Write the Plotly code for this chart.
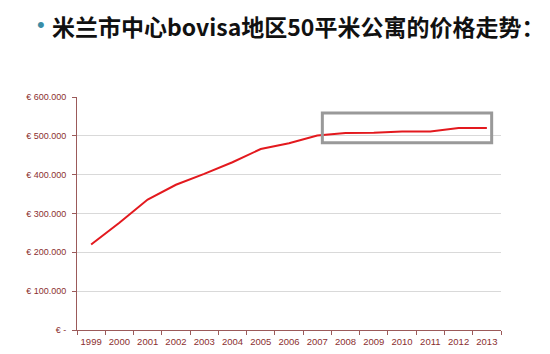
import plotly.graph_objects as go

years = [str(y) for y in range(1999, 2014)]
prices = [220000, 276000, 336000, 374000, 402000, 432000, 466000, 481000, 501000,
          507000, 508000, 511000, 511000, 520000, 520000]
ytick_vals = [0, 100000, 200000, 300000, 400000, 500000, 600000]
ytick_text = ["€ -", "€ 100.000", "€ 200.000", "€ 300.000", "€ 400.000", "€ 500.000", "€ 600.000"]
title_text = "米兰市中心bovisa地区50平米公寓的价格走势："

axis_col = "#9B5A5A"
label_col = "#8B2F2F"

fig = go.Figure()
fig.add_trace(go.Scatter(x=years, y=prices, mode="lines",
                         line=dict(color="#E3191E", width=2), hoverinfo="skip"))

fig.update_layout(
    width=550, height=354,
    margin=dict(l=77, r=49, t=97, b=24),
    paper_bgcolor="white", plot_bgcolor="white",
    showlegend=False,
    xaxis=dict(type="category", range=[-0.5, 14.5], showgrid=False, automargin=False,
               showline=True, linecolor=axis_col, linewidth=1, tickangle=0,
               ticks="outside", tickson="boundaries", ticklen=4, tickcolor=axis_col,
               ticklabelstandoff=3,
               tickfont=dict(family="Liberation Sans, Arial", size=9.5, color=label_col)),
    yaxis=dict(range=[0, 600000], tickvals=ytick_vals, ticktext=ytick_text, automargin=False,
               showgrid=True, gridcolor="#D9D9D9", gridwidth=1,
               showline=True, linecolor=axis_col, linewidth=1,
               ticks="outside", ticklen=4, tickcolor=axis_col, zeroline=False,
               ticklabelstandoff=4,
               tickfont=dict(family="Liberation Sans, Arial", size=9, color=label_col)),
)

# highlight box
fig.add_shape(type="rect", xref="x", yref="y", x0=8.18, x1=14.17, y0=482000, y1=559000,
              line=dict(color="#999999", width=3), fillcolor="rgba(0,0,0,0)")

# title with bullet
fig.add_annotation(xref="paper", yref="paper", x=-0.1, y=1.31, xanchor="left", yanchor="middle",
                   text="•", showarrow=False, font=dict(size=22, color="#3A8DA6", family="Arial"))
fig.add_annotation(xref="paper", yref="paper", x=-0.064, y=1.305, xanchor="left", yanchor="middle",
                   text="<b>" + title_text + "</b>", showarrow=False,
                   font=dict(size=23, color="#111111", family="Noto Sans CJK SC"))

fig.write_html("out.html")
